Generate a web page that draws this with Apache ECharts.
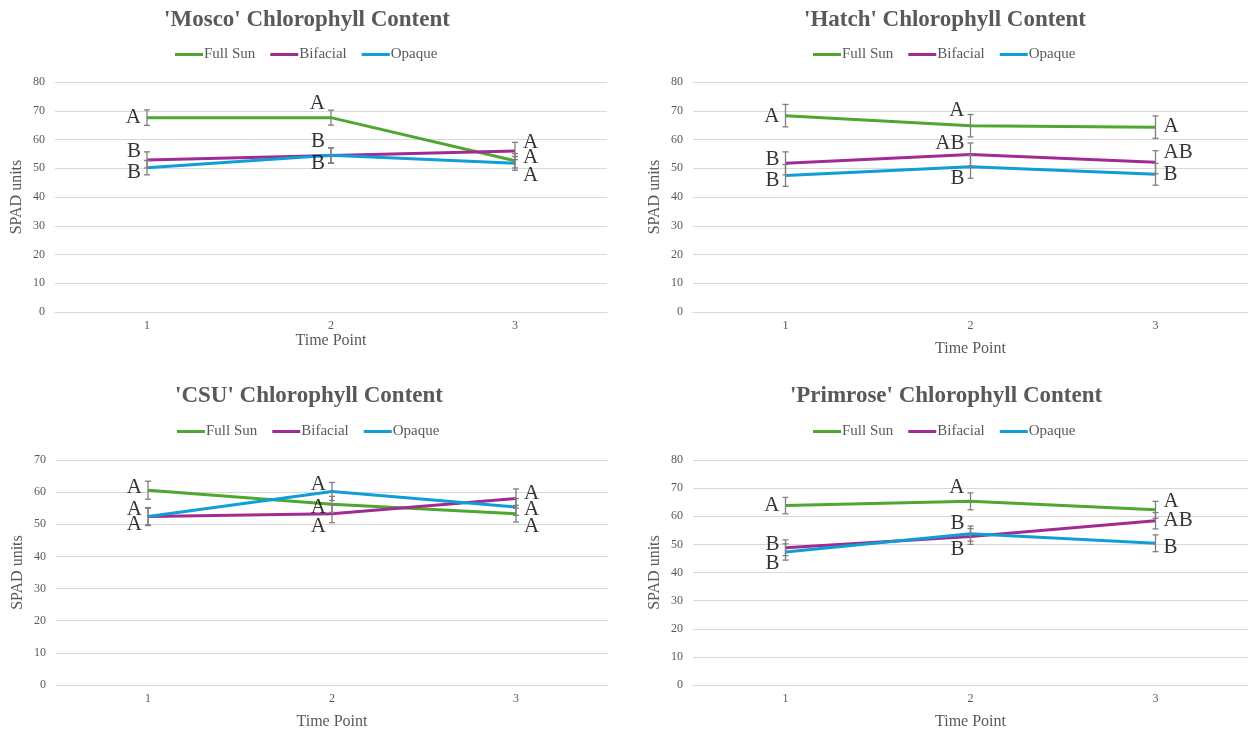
<!DOCTYPE html>
<html><head><meta charset="utf-8">
<script src="https://cdn.jsdelivr.net/npm/echarts@6/dist/echarts.min.js"></script>
<style>html,body{margin:0;padding:0;background:#fff}#main{width:1248px;height:731px}</style>
</head><body><div id="main"></div>
<script>
// ---------------- DATA ----------------
const timePoints = ['1', '2', '3'];
const treatments = ['Full Sun', 'Bifacial', 'Opaque'];

// 'Mosco'
const moscoFullSun = [67.6, 67.6, 52.6];
const moscoBifacial = [52.9, 54.4, 56.0];
const moscoOpaque = [50.2, 54.5, 51.7];
const moscoFullSunErr = [2.7, 2.6, 2.5];
const moscoBifacialErr = [2.8, 2.7, 3.0];
const moscoOpaqueErr = [2.5, 2.6, 2.4];
const moscoFullSunLetters = ['A', 'A', 'A'];
const moscoBifacialLetters = ['B', 'B', 'A'];
const moscoOpaqueLetters = ['B', 'B', 'A'];

// 'Hatch'
const hatchFullSun = [68.3, 64.8, 64.3];
const hatchBifacial = [51.7, 54.8, 52.1];
const hatchOpaque = [47.5, 50.5, 47.9];
const hatchFullSunErr = [3.9, 3.9, 3.9];
const hatchBifacialErr = [4.0, 4.0, 4.0];
const hatchOpaqueErr = [3.8, 4.0, 3.8];
const hatchFullSunLetters = ['A', 'A', 'A'];
const hatchBifacialLetters = ['B', 'AB', 'AB'];
const hatchOpaqueLetters = ['B', 'B', 'B'];

// 'CSU'
const csuFullSun = [60.6, 56.2, 53.3];
const csuBifacial = [52.4, 53.3, 58.0];
const csuOpaque = [52.4, 60.2, 55.4];
const csuFullSunErr = [2.8, 2.5, 2.6];
const csuBifacialErr = [2.6, 2.8, 3.0];
const csuOpaqueErr = [2.8, 2.8, 2.6];
const csuFullSunLetters = ['A', 'A', 'A'];
const csuBifacialLetters = ['A', 'A', 'A'];
const csuOpaqueLetters = ['A', 'A', 'A'];

// 'Primrose'
const primroseFullSun = [63.8, 65.3, 62.3];
const primroseBifacial = [48.8, 52.8, 58.4];
const primroseOpaque = [47.3, 53.8, 50.4];
const primroseFullSunErr = [2.9, 3.0, 3.0];
const primroseBifacialErr = [2.8, 2.8, 2.9];
const primroseOpaqueErr = [2.9, 2.7, 3.0];
const primroseFullSunLetters = ['A', 'A', 'A'];
const primroseBifacialLetters = ['B', 'B', 'AB'];
const primroseOpaqueLetters = ['B', 'B', 'B'];

const panelTitles = ["'Mosco' Chlorophyll Content", "'Hatch' Chlorophyll Content",
                     "'CSU' Chlorophyll Content", "'Primrose' Chlorophyll Content"];
const yMaxes = [80, 80, 70, 80];
const yAxisName = 'SPAD units';
const xAxisName = 'Time Point';

// ---------------- STYLE / LAYOUT ----------------
const colors = ['#4EA72E', '#A02B93', '#0F9ED5'];
const FONT = '"Liberation Serif", "DejaVu Serif", serif';
const GRAY = '#595959';

const layouts = [
  { grid: {left: 55, top: 82, width: 552, height: 230}, titleX: 307, titleY: 9, legendX: 175, legendY: 47, xNameGap: 19,
    letterDy: [[0, -14, -3], [-8, -14, -9], [5, 8, 12]] },
  { grid: {left: 693, top: 82, width: 555, height: 230}, titleX: 945, titleY: 9, legendX: 813, legendY: 47, xNameGap: 29,
    letterDy: [[1, -15, -1], [-4, -11, -10], [5, 12, 0]] },
  { grid: {left: 56, top: 460, width: 552, height: 228}, titleX: 309, titleY: 385, legendX: 177, legendY: 424, xNameGap: 29,
    letterDy: [[-3, 3, 13], [8, 13, -5], [-7, -7, 3]] },
  { grid: {left: 693, top: 460, width: 555, height: 228}, titleX: 946, titleY: 385, legendX: 813, legendY: 424, xNameGap: 29,
    letterDy: [[0, -14, -8], [-3, 13, 0], [12, -10, 4]] }
];

const panels = [
  { values: [moscoFullSun, moscoBifacial, moscoOpaque], errors: [moscoFullSunErr, moscoBifacialErr, moscoOpaqueErr],
    letters: [moscoFullSunLetters, moscoBifacialLetters, moscoOpaqueLetters] },
  { values: [hatchFullSun, hatchBifacial, hatchOpaque], errors: [hatchFullSunErr, hatchBifacialErr, hatchOpaqueErr],
    letters: [hatchFullSunLetters, hatchBifacialLetters, hatchOpaqueLetters] },
  { values: [csuFullSun, csuBifacial, csuOpaque], errors: [csuFullSunErr, csuBifacialErr, csuOpaqueErr],
    letters: [csuFullSunLetters, csuBifacialLetters, csuOpaqueLetters] },
  { values: [primroseFullSun, primroseBifacial, primroseOpaque], errors: [primroseFullSunErr, primroseBifacialErr, primroseOpaqueErr],
    letters: [primroseFullSunLetters, primroseBifacialLetters, primroseOpaqueLetters] }
];

const letterDx = [-6, -6, 8];
const letterAlign = ['right', 'right', 'left'];

function renderErr(params, api) {
  const x = api.value(0), lo = api.value(1), hi = api.value(2);
  const p1 = api.coord([x, hi]), p2 = api.coord([x, lo]);
  const w = 3;
  const style = {stroke: '#7f7f7f', lineWidth: 1.3};
  return {type: 'group', children: [
    {type: 'line', shape: {x1: p1[0], y1: p1[1], x2: p2[0], y2: p2[1]}, style},
    {type: 'line', shape: {x1: p1[0] - w, y1: p1[1], x2: p1[0] + w, y2: p1[1]}, style},
    {type: 'line', shape: {x1: p2[0] - w, y1: p2[1], x2: p2[0] + w, y2: p2[1]}, style}
  ]};
}

const option = {
  backgroundColor: '#fff', animation: false,
  title: [], legend: [], grid: [], xAxis: [], yAxis: [], series: []
};

panels.forEach((p, i) => {
  const L = layouts[i];
  option.title.push({ text: panelTitles[i], left: L.titleX, top: L.titleY, textAlign: 'center', padding: 0,
    textStyle: { fontFamily: FONT, fontSize: 23, fontWeight: 'bold', color: GRAY } });
  option.legend.push({ data: treatments, left: L.legendX, top: L.legendY, padding: 0, itemGap: 15,
    icon: 'rect', itemWidth: 28, itemHeight: 3, selectedMode: false,
    textStyle: { fontFamily: FONT, fontSize: 15, color: GRAY, padding: [0, 0, 0, -4] } });
  option.grid.push(Object.assign({ containLabel: false }, L.grid));
  option.xAxis.push({ type: 'category', gridIndex: i, data: timePoints, boundaryGap: true,
    axisLine: { show: true, lineStyle: { color: '#d9d9d9', width: 1 } }, axisTick: { show: false },
    axisLabel: { fontFamily: FONT, fontSize: 12, color: GRAY, margin: 8 },
    name: xAxisName, nameLocation: 'middle', nameGap: L.xNameGap,
    nameTextStyle: { fontFamily: FONT, fontSize: 16, color: GRAY } });
  option.yAxis.push({ type: 'value', gridIndex: i, min: 0, max: yMaxes[i], interval: 10,
    axisLine: { show: false }, axisTick: { show: false },
    splitLine: { lineStyle: { color: '#d9d9d9', width: 1 } },
    axisLabel: { fontFamily: FONT, fontSize: 12, color: GRAY, margin: 10 },
    name: yAxisName, nameLocation: 'middle', nameGap: 30,
    nameTextStyle: { fontFamily: FONT, fontSize: 16, color: GRAY } });

  p.values.forEach((vals, s) => {
    option.series.push({ type: 'line', name: treatments[s], xAxisIndex: i, yAxisIndex: i, data: vals,
      symbol: 'none', smooth: false, color: colors[s], lineStyle: { width: 3, color: colors[s] }, z: 2 });
  });
  p.values.forEach((vals, s) => {
    option.series.push({ type: 'custom', name: treatments[s] + ' error', xAxisIndex: i, yAxisIndex: i,
      renderItem: renderErr, encode: { x: 0, y: [1, 2] }, z: 3, silent: true,
      data: vals.map((v, k) => [k, v - p.errors[s][k], v + p.errors[s][k]]) });
  });
  p.values.forEach((vals, s) => {
    option.series.push({ type: 'scatter', name: treatments[s] + ' letters', xAxisIndex: i, yAxisIndex: i,
      symbolSize: 0, z: 4, silent: true,
      data: vals.map((v, k) => ({ value: [k, v], label: { show: true, position: 'inside',
        formatter: p.letters[s][k], align: letterAlign[k], verticalAlign: 'middle',
        offset: [letterDx[k], L.letterDy[s][k]], fontFamily: FONT, fontSize: 21, color: '#000' } })) });
  });
});

const chart = echarts.init(document.getElementById('main'), null, { renderer: 'canvas' });
chart.setOption(option);
</script>
</body></html>
